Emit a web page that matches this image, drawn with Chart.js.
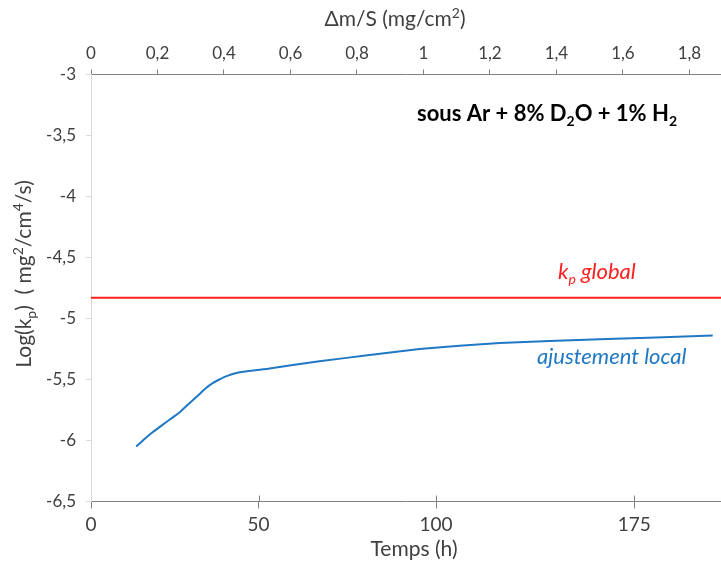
<!DOCTYPE html>
<html>
<head>
<meta charset="utf-8">
<script src="https://cdn.jsdelivr.net/npm/chart.js@4.4.1/dist/chart.umd.min.js"></script>
<style>
    body { margin: 0; background: #fff; }
    canvas { display: block; }
</style>
</head>
<body>
<canvas id="chart1" width="721" height="575"></canvas>
<script>
// Δm/S (mg/cm2) and Log(kp) of the local fit
const masse = [0.136, 0.16, 0.186, 0.206, 0.226, 0.246, 0.266, 0.286, 0.306, 0.326, 0.346, 0.366, 0.386, 0.41, 0.447, 0.537, 0.687, 0.838, 0.988, 1.229, 1.53, 1.87];
const logKpLocal = [-6.05, -5.99, -5.93, -5.89, -5.85, -5.81, -5.77, -5.72, -5.67, -5.62, -5.57, -5.53, -5.50, -5.47, -5.44, -5.41, -5.35, -5.30, -5.25, -5.20, -5.17, -5.14];
const logKpGlobal = -4.83;

// time axis labels (h) and where they sit on the Δm/S axis
const tempsLabels = ['0', '50', '100', '175'];
const tempsMasse = [0, 0.504, 1.038, 1.634];

const xMin = 0;
const xMax = 1.895;
const yMin = -6.5;
const yMax = -3;

const police = 'Lato, "Open Sans", sans-serif';

function virgule(v) {
    return Number(v.toFixed(1)).toString().replace('.', ',');
}

// draws text with sub / sup parts, x is the start (or centre if centre = true)
function texteRiche(ctx, morceaux, x, y, taille, style, couleur, centre) {
    const petite = Math.round(taille * 0.65);
    let largeur = 0;
    morceaux.forEach((m) => {
        ctx.font = style + ' ' + (m.s ? petite : taille) + 'px ' + police;
        m.w = ctx.measureText(m.t).width;
        largeur += m.w;
    });
    let px = centre ? x - largeur / 2 : x;
    ctx.fillStyle = couleur;
    ctx.textBaseline = 'alphabetic';
    ctx.textAlign = 'left';
    morceaux.forEach((m) => {
        ctx.font = style + ' ' + (m.s ? petite : taille) + 'px ' + police;
        let dy = 0;
        if (m.s === 'sub') dy = taille * 0.22;
        if (m.s === 'sup') dy = -taille * 0.38;
        ctx.fillText(m.t, px, y + dy);
        px += m.w;
    });
}

const textes = {
    id: 'textes',
    afterDraw(chart) {
        const ctx = chart.ctx;
        const zone = chart.chartArea;
        ctx.save();

        // inner half of the bottom ticks
        const sx = chart.scales.x2;
        ctx.strokeStyle = '#808080';
        ctx.lineWidth = 1;
        tempsMasse.forEach((v, i) => {
            if (i === 0) return;
            const px = Math.round(sx.getPixelForValue(v)) + 0.5;
            ctx.beginPath();
            ctx.moveTo(px, zone.bottom);
            ctx.lineTo(px, zone.bottom - 6);
            ctx.stroke();
        });

        texteRiche(ctx, [{ t: 'Δm/S (mg/cm' }, { t: '2', s: 'sup' }, { t: ')' }], 395, 26, 21, 'normal', '#404040', true);
        texteRiche(ctx, [{ t: 'Temps (h)' }], 414, 556, 21, 'normal', '#404040', true);

        texteRiche(ctx, [{ t: 'sous Ar + 8% D' }, { t: '2', s: 'sub' }, { t: 'O + 1% H' }, { t: '2', s: 'sub' }],
            417, 121, 22, 'bold', '#000000', false);

        texteRiche(ctx, [{ t: 'k' }, { t: 'p', s: 'sub' }, { t: ' global' }], 558, 279, 22, 'italic', '#ff2020', false);
        texteRiche(ctx, [{ t: 'ajustement local' }], 537, 364, 22, 'italic', '#1f78c4', false);

        ctx.translate(31, 274);
        ctx.rotate(-Math.PI / 2);
        texteRiche(ctx, [{ t: 'Log(k' }, { t: 'p', s: 'sub' }, { t: ')  ( mg' }, { t: '2', s: 'sup' }, { t: '/cm' }, { t: '4', s: 'sup' }, { t: '/s)' }],
            0, 0, 21, 'normal', '#404040', true);
        ctx.restore();
    }
};

const data = {
    datasets: [{
        label: 'kp global',
        data: [{ x: xMin, y: logKpGlobal }, { x: xMax, y: logKpGlobal }],
        borderColor: '#ff2020',
        borderWidth: 2,
        pointRadius: 0,
        xAxisID: 'x',
        yAxisID: 'y'
    }, {
        label: 'ajustement local',
        data: masse.map((m, i) => { return { x: m, y: logKpLocal[i] } }),
        borderColor: '#1f78c4',
        borderWidth: 2,
        pointRadius: 0,
        tension: 0.1,
        xAxisID: 'x',
        yAxisID: 'y'
    }]
};

const config = {
    type: 'line',
    data: data,
    options: {
        responsive: false,
        animation: false,
        layout: { padding: { left: 0, right: 0, top: 0, bottom: 0 } },
        plugins: {
            legend: { display: false },
            tooltip: { enabled: false }
        },
        scales: {
            x: {
                type: 'linear',
                position: 'top',
                min: xMin,
                max: xMax,
                afterFit: (s) => { s.height = 74.5; },
                border: { color: '#808080', width: 1 },
                grid: { drawOnChartArea: false, tickLength: 5, color: '#808080' },
                ticks: {
                    stepSize: 0.2,
                    includeBounds: false,
                    maxRotation: 0,
                    padding: 6,
                    color: '#404040',
                    font: { family: police, size: 17 },
                    callback: (v) => virgule(v)
                }
            },
            x2: {
                type: 'linear',
                position: 'bottom',
                min: xMin,
                max: xMax,
                afterFit: (s) => { s.height = 73.5; },
                afterBuildTicks: (s) => { s.ticks = tempsMasse.map((v) => { return { value: v } }); },
                border: { color: '#808080', width: 1 },
                grid: { drawOnChartArea: false, tickLength: 7, color: '#808080' },
                ticks: {
                    maxRotation: 0,
                    autoSkip: false,
                    padding: 5,
                    color: '#404040',
                    font: { family: police, size: 19 },
                    callback: (v, i) => tempsLabels[i]
                }
            },
            y: {
                type: 'linear',
                position: 'left',
                min: yMin,
                max: yMax,
                afterFit: (s) => { s.width = 91; },
                border: { color: '#d9d9d9', width: 1 },
                grid: { drawOnChartArea: false, tickLength: 5, color: '#d9d9d9' },
                ticks: {
                    stepSize: 0.5,
                    padding: 10,
                    color: '#404040',
                    font: { family: police, size: 17 },
                    callback: (v) => virgule(v)
                }
            }
        }
    },
    plugins: [textes]
};

const canva = document.getElementById('chart1');
const grafico = new Chart(canva, config);
</script>
</body>
</html>
